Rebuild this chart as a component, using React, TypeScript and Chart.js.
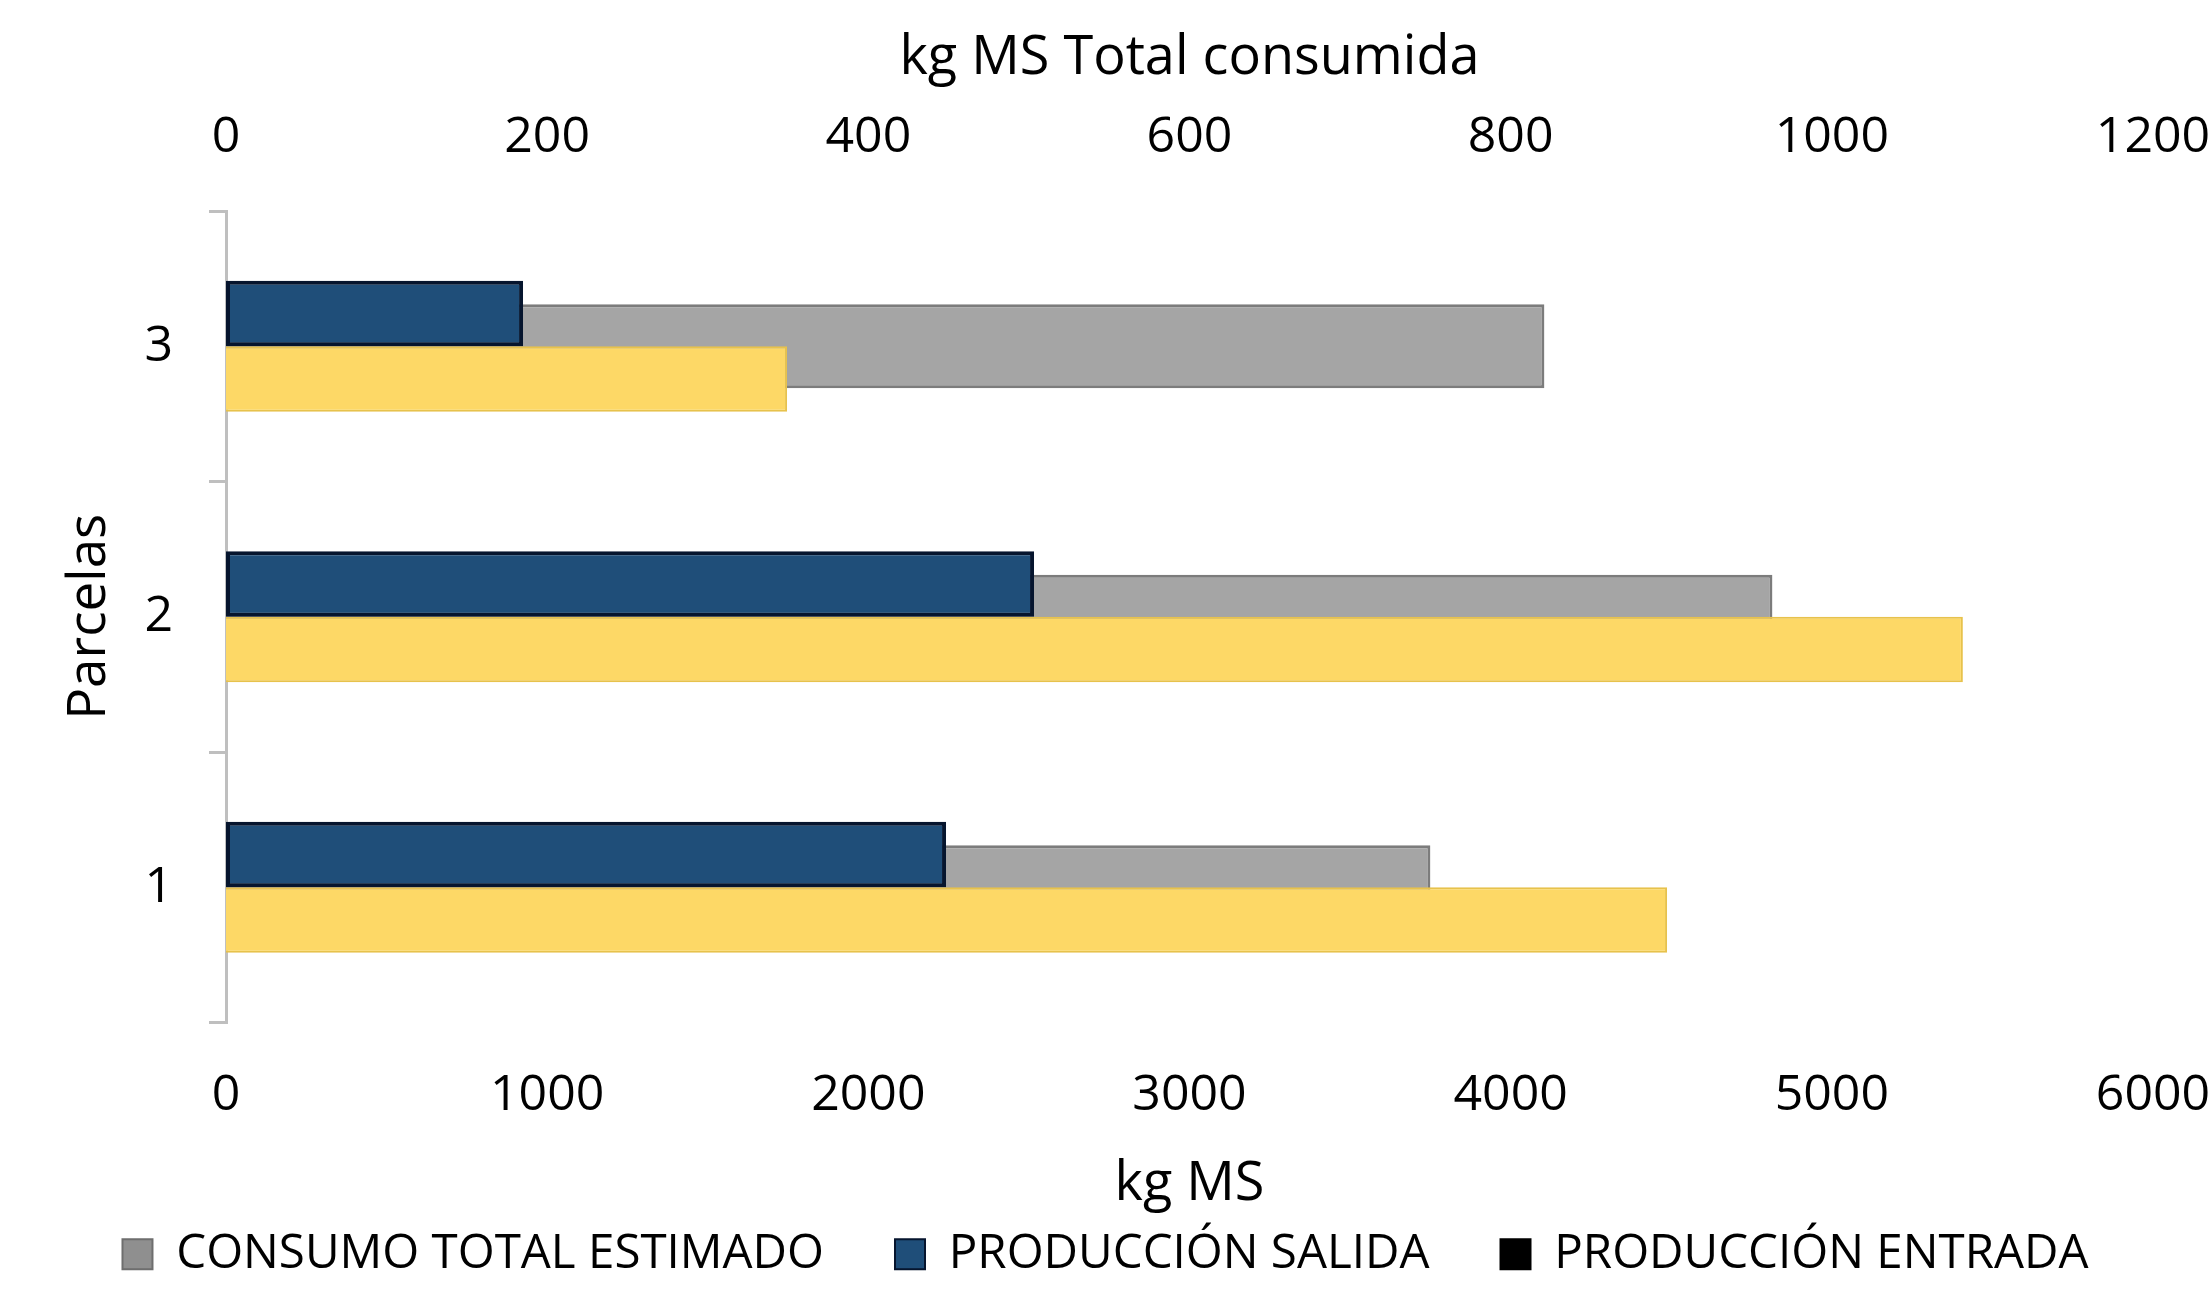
import React, { useEffect, useRef } from 'react';
import { Chart, registerables } from 'chart.js';

Chart.register(...registerables);

// ---- data ----
const categories = ['3', '2', '1'];
const produccionSalida = [925, 2516, 2242]; // kg MS (bottom axis)
const produccionEntrada = [1747, 5408, 4487]; // kg MS (bottom axis)
const consumoTotal = [821, 963, 750]; // kg MS Total consumida (top axis)
const bottomTickValues = [0, 1000, 2000, 3000, 4000, 5000, 6000];
const topTickValues = [0, 200, 400, 600, 800, 1000, 1200];
const legendNames = ['CONSUMO TOTAL ESTIMADO', 'PRODUCCIÓN SALIDA', 'PRODUCCIÓN ENTRADA'];

const FONT = "'Open Sans', sans-serif";

export default function App() {
  const ref = useRef<HTMLCanvasElement | null>(null);

  useEffect(() => {
    document.body.style.margin = '0';
    let chart: Chart | null = null;
    let cancelled = false;
    const make = () => {
      if (cancelled || !ref.current) return;
      chart = new Chart(ref.current, {
        type: 'bar',
        data: {
          labels: categories,
          datasets: [
            {
              label: legendNames[1],
              data: produccionSalida,
              xAxisID: 'x',
              yAxisID: 'y',
              backgroundColor: '#1F4E79',
              borderColor: '#06152E',
              borderWidth: 4,
              borderSkipped: false,
              categoryPercentage: 0.485,
              barPercentage: 1,
            },
            {
              label: legendNames[2],
              data: produccionEntrada,
              xAxisID: 'x',
              yAxisID: 'y',
              backgroundColor: '#FDD866',
              borderColor: '#E7C24C',
              borderWidth: 2,
              categoryPercentage: 0.485,
              barPercentage: 1,
            },
            {
              label: legendNames[0],
              data: consumoTotal,
              xAxisID: 'x2',
              yAxisID: 'y',
              grouped: false,
              backgroundColor: '#A5A5A5',
              borderColor: '#7C7C7C',
              borderWidth: 3,
              categoryPercentage: 1,
              barPercentage: 0.311,
            },
          ],
        },
        options: {
          indexAxis: 'y',
          responsive: false,
          animation: false,
          layout: { padding: { left: 0, right: 0, top: 0, bottom: 2 } },
          scales: {
            y: {
              type: 'category',
              position: 'left',
              offset: true,
              afterFit: (s: any) => {
                s.width = 226;
              },
              grid: {
                display: true,
                drawOnChartArea: false,
                drawTicks: true,
                tickLength: 17,
                offset: true,
                color: '#BFBFBF',
                lineWidth: 3,
              },
              border: { display: true, color: '#BFBFBF', width: 3 },
              ticks: { color: '#000', font: { family: FONT, size: 50 }, padding: 36 },
              title: {
                display: true,
                text: 'Parcelas',
                color: '#000',
                font: { family: FONT, size: 53 },
                padding: { top: 58, bottom: 0 },
              },
            },
            x: {
              type: 'linear',
              position: 'bottom',
              min: 0,
              max: 6000,
              afterBuildTicks: (s: any) => {
                s.ticks = bottomTickValues.map((v) => ({ value: v }));
              },
              afterFit: (s: any) => {
                s.height = 137;
                s.paddingLeft = 0;
                s.paddingRight = 58;
              },
              grid: { display: false, drawTicks: false, tickLength: 0 },
              border: { display: false },
              ticks: {
                color: '#000',
                font: { family: FONT, size: 50 },
                padding: 43,
                maxRotation: 0,
                callback: (v: any) => String(v),
              },
              title: {
                display: true,
                text: 'kg MS',
                color: '#000',
                font: { family: FONT, size: 54 },
                padding: { top: 0, bottom: -58 },
              },
            },
            x2: {
              type: 'linear',
              position: 'top',
              min: 0,
              max: 1200,
              afterBuildTicks: (s: any) => {
                s.ticks = topTickValues.map((v) => ({ value: v }));
              },
              afterFit: (s: any) => {
                s.height = 211;
                s.paddingLeft = 0;
                s.paddingRight = 58;
              },
              grid: { display: false, drawTicks: false, tickLength: 0 },
              border: { display: false },
              ticks: {
                color: '#000',
                font: { family: FONT, size: 50 },
                padding: 43,
                maxRotation: 0,
                callback: (v: any) => String(v),
              },
              title: {
                display: true,
                text: 'kg MS Total consumida',
                color: '#000',
                font: { family: FONT, size: 54 },
                padding: { top: 26, bottom: 0 },
              },
            },
          },
          plugins: {
            tooltip: { enabled: false },
            legend: {
              display: true,
              position: 'bottom',
              labels: {
                color: '#000',
                font: { family: FONT, size: 47.5 },
                boxWidth: 30,
                boxHeight: 30,
                padding: 71,
                generateLabels: () => {
                  const fills = ['#8F8F8F', '#1F4E79', '#000000'];
                  const strokes = ['#6E6E6E', '#06152E', '#000000'];
                  const dsIdx = [2, 0, 1];
                  return legendNames.map((t, i) => ({
                    text: t,
                    fillStyle: fills[i],
                    strokeStyle: strokes[i],
                    lineWidth: 2,
                    hidden: false,
                    datasetIndex: dsIdx[i],
                    fontColor: '#000',
                  }));
                },
              },
            },
          },
        },
      });
    };
    const fontsReady = (document as any).fonts
      ? Promise.all([
          (document as any).fonts.load("50px 'Open Sans'"),
          (document as any).fonts.load("54px 'Open Sans'"),
        ]).catch(() => null)
      : Promise.resolve(null);
    fontsReady.then(make);
    return () => {
      cancelled = true;
      if (chart) chart.destroy();
    };
  }, []);

  return (
    <div style={{ width: 2211, height: 1290, background: '#fff' }}>
      <canvas ref={ref} width={2211} height={1290} style={{ display: 'block' }} />
    </div>
  );
}
